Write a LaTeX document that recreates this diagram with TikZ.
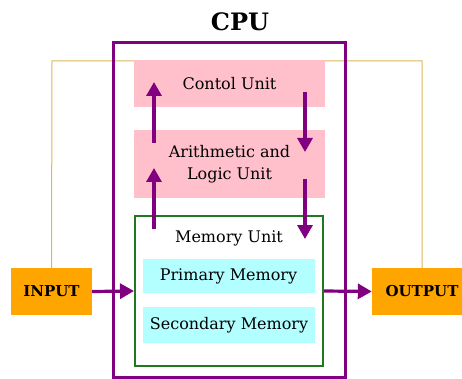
\documentclass[tikz,border=0pt]{standalone}
\usepackage{fontspec}
\setmainfont{DejaVu Serif}
\usetikzlibrary{arrows.meta}
\definecolor{cpupurple}{HTML}{800080}
\definecolor{unitpink}{HTML}{FFC0CB}
\definecolor{memcyan}{HTML}{B3FFFF}
\definecolor{memgreen}{HTML}{1F7A1F}
\definecolor{ioorange}{HTML}{FFA500}
\definecolor{wireorange}{HTML}{DDB85A}
\tikzset{
  pinkbox/.style={fill=unitpink, inner sep=0pt, minimum width=191pt, align=center, font=\fontsize{16}{22}\selectfont},
  cyanbox/.style={fill=memcyan, inner sep=0pt, minimum width=172pt, font=\fontsize{16}{18}\selectfont},
  iobox/.style={fill=ioorange, inner sep=0pt, minimum height=47pt, font=\bfseries\fontsize{15}{18}\selectfont},
  flow/.style={draw=cpupurple, line width=3.2pt, -{Triangle[length=14pt,width=15pt]}},
  wire/.style={draw=wireorange, line width=1pt}
}
\begin{document}
\begin{tikzpicture}[x=1pt,y=-1pt]
\clip (0,0) rectangle (462,379);
\fill[white] (0,0) rectangle (462,379);
% title
\node[font=\bfseries\fontsize{24}{28}\selectfont] (title) at (240,22) {CPU};
% io boxes
\node[iobox, minimum width=81pt] (inp) at (51.5,291.5) {INPUT};
\node[iobox, minimum width=100pt, text width=100pt, align=center] (outp) at (422,291.5) {OUTPUT};
% wire
\coordinate (wl) at (52,61);
\coordinate (wr) at (422,61);
\draw[wire] (inp.north) -- (wl) -- (wr) -- (outp.north);
% units
\node[pinkbox, minimum height=47pt] (cu) at (229.5,83.5) {Contol Unit};
\node[pinkbox, minimum height=68pt] (alu) at (229.5,164) {Arithmetic and\\Logic Unit};
% memory unit
\node[draw=memgreen, line width=2pt, fill=white, minimum width=188pt, minimum height=150pt, inner sep=0pt] (mem) at (229,291) {};
\node[font=\fontsize{16}{18}\selectfont] (memlabel) at (229,238) {Memory Unit};
\node[cyanbox, minimum height=34pt] (prim) at (228.5,276) {Primary Memory};
\node[cyanbox, minimum height=36pt] (sec) at (229,325) {Secondary Memory};
% cpu box
\node[draw=cpupurple, line width=3pt, minimum width=232pt, minimum height=334pt, inner sep=0pt] (cpu) at (229,210) {};
% arrows
\coordinate (a1s) at (154,229);
\coordinate (a1e) at (154,168);
\coordinate (a2s) at (154,143);
\coordinate (a2e) at (154,82);
\coordinate (a3s) at (305,92);
\coordinate (a3e) at (305,152);
\coordinate (a4s) at (305,179);
\coordinate (a4e) at (305,239);
\draw[flow] (a1s) -- (a1e);
\draw[flow] (a2s) -- (a2e);
\draw[flow] (a3s) -- (a3e);
\draw[flow] (a4s) -- (a4e);
\draw[flow] (inp.east) -- (mem.west);
\draw[flow] (mem.east) -- (outp.west);
\end{tikzpicture}
\end{document}
